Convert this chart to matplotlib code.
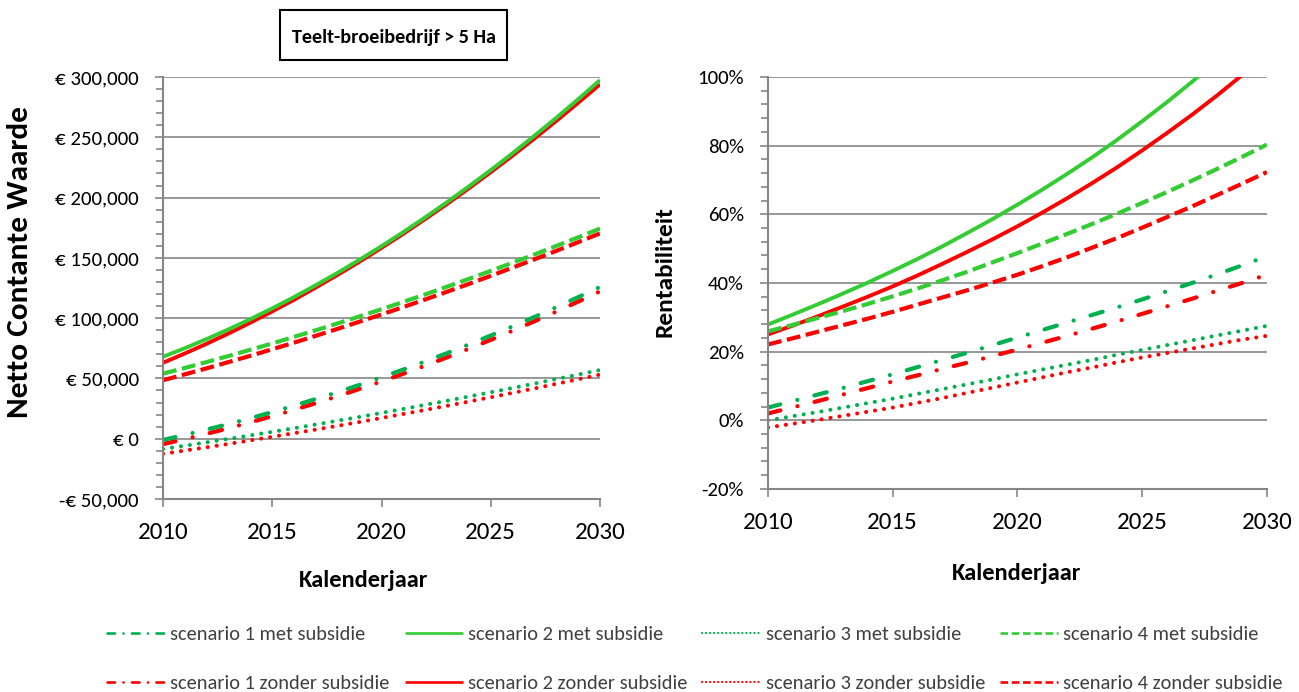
import matplotlib
matplotlib.use("Agg")
import matplotlib.pyplot as plt
from matplotlib.lines import Line2D
from matplotlib.patches import Rectangle
from matplotlib.ticker import FuncFormatter, MultipleLocator

years = list(range(2010, 2031))

# Netto Contante Waarde, in euro x 1000
ncw_s1_met = [-1, 3.2, 7.6, 12.2, 17.0, 22.1, 27.4, 33.0, 38.7, 44.7, 51.0, 57.4, 64.1, 71.0, 78.2, 85.6, 93.2, 101.0, 109.1, 117.4, 125.9]
ncw_s2_met = [68, 75.1, 82.7, 90.7, 99.2, 108.1, 117.5, 127.4, 137.7, 148.5, 159.7, 171.4, 183.6, 196.2, 209.3, 222.8, 236.8, 251.3, 266.2, 281.6, 297.4]
ncw_s3_met = [-8.5, -5.8, -3.0, -0.1, 2.8, 5.7, 8.7, 11.8, 15.0, 18.1, 21.4, 24.7, 28.1, 31.5, 35.0, 38.5, 42.1, 45.7, 49.5, 53.2, 57.0]
ncw_s4_met = [54, 58.7, 63.6, 68.6, 73.8, 79.0, 84.5, 90.0, 95.7, 101.5, 107.4, 113.5, 119.7, 126.1, 132.6, 139.2, 146.0, 152.8, 159.9, 167.0, 174.3]
ncw_s1_zonder = [-4.5, -0.3, 4.1, 8.7, 13.6, 18.7, 24.0, 29.5, 35.3, 41.3, 47.5, 53.9, 60.6, 67.5, 74.6, 82.0, 89.6, 97.4, 105.4, 113.7, 122.2]
ncw_s2_zonder = [63, 70.7, 78.8, 87.3, 96.3, 105.6, 115.3, 125.5, 136.0, 146.9, 158.3, 170.0, 182.2, 194.7, 207.7, 221.1, 234.8, 249.0, 263.6, 278.6, 294.0]
ncw_s3_zonder = [-12.5, -9.8, -7.1, -4.3, -1.4, 1.6, 4.6, 7.6, 10.7, 13.9, 17.2, 20.5, 23.9, 27.3, 30.8, 34.4, 38.0, 41.7, 45.5, 49.3, 53.2]
ncw_s4_zonder = [48.5, 53.4, 58.4, 63.6, 68.8, 74.2, 79.7, 85.4, 91.2, 97.1, 103.1, 109.2, 115.5, 121.9, 128.4, 135.1, 141.9, 148.8, 155.8, 163.0, 170.3]

# Rentabiliteit, in %
rent_s1_met = [3.7, 5.6, 7.5, 9.4, 11.4, 13.4, 15.5, 17.6, 19.7, 21.9, 24.1, 26.3, 28.5, 30.7, 32.9, 35.2, 37.6, 40.0, 42.5, 45.1, 47.8]
rent_s2_met = [27.9, 30.8, 33.8, 36.9, 40.1, 43.5, 47.0, 50.7, 54.6, 58.6, 62.8, 67.2, 71.8, 76.6, 81.7, 87.1, 92.7, 98.6, 104.8, 111.3, 118.1]
rent_s3_met = [0, 1.2, 2.4, 3.7, 5.0, 6.3, 7.7, 9.1, 10.5, 11.9, 13.4, 14.8, 16.2, 17.6, 19.1, 20.5, 21.9, 23.3, 24.7, 26.1, 27.5]
rent_s4_met = [25.9, 27.8, 29.8, 31.8, 33.9, 36.1, 38.4, 40.8, 43.3, 46.0, 48.7, 51.5, 54.3, 57.2, 60.2, 63.3, 66.5, 69.8, 73.2, 76.7, 80.3]
rent_s1_zonder = [2.0, 3.8, 5.6, 7.5, 9.4, 11.3, 13.1, 15.0, 16.8, 18.7, 20.6, 22.6, 24.6, 26.7, 28.8, 31.0, 33.2, 35.4, 37.7, 40.0, 42.4]
rent_s2_zonder = [25.0, 27.6, 30.3, 33.1, 36.0, 39.0, 42.2, 45.6, 49.1, 52.7, 56.5, 60.5, 64.7, 69.1, 73.7, 78.6, 83.7, 89.0, 94.6, 100.5, 106.7]
rent_s3_zonder = [-2.1, -1.0, 0.1, 1.3, 2.5, 3.7, 5.1, 6.5, 8.0, 9.5, 11.0, 12.5, 14.0, 15.4, 16.9, 18.3, 19.6, 20.9, 22.2, 23.5, 24.6]
rent_s4_zonder = [22.1, 23.9, 25.8, 27.7, 29.6, 31.6, 33.7, 35.8, 37.9, 40.1, 42.4, 44.9, 47.5, 50.3, 53.1, 56.1, 59.2, 62.3, 65.6, 68.9, 72.3]

ncw = {(1, "met"): ncw_s1_met, (2, "met"): ncw_s2_met, (3, "met"): ncw_s3_met, (4, "met"): ncw_s4_met,
       (1, "zonder"): ncw_s1_zonder, (2, "zonder"): ncw_s2_zonder, (3, "zonder"): ncw_s3_zonder, (4, "zonder"): ncw_s4_zonder}
rent = {(1, "met"): rent_s1_met, (2, "met"): rent_s2_met, (3, "met"): rent_s3_met, (4, "met"): rent_s4_met,
        (1, "zonder"): rent_s1_zonder, (2, "zonder"): rent_s2_zonder, (3, "zonder"): rent_s3_zonder, (4, "zonder"): rent_s4_zonder}

LIGHT_GREEN = "#33CC33"
DARK_GREEN = "#00B050"
RED = "#FF0000"
GRID = "#868686"
colors = {(1, "met"): DARK_GREEN, (2, "met"): LIGHT_GREEN, (3, "met"): DARK_GREEN, (4, "met"): LIGHT_GREEN,
          (1, "zonder"): RED, (2, "zonder"): RED, (3, "zonder"): RED, (4, "zonder"): RED}

FONT = ["Carlito", "Liberation Sans", "DejaVu Sans"]
plt.rcParams["font.family"] = FONT
plt.rcParams["lines.scale_dashes"] = False

# line style per scenario: (linestyle, linewidth, capstyle)
styles = {
    1: ((0, (9.2, 12.6, 0.1, 12.6)), 3.0, "round"),
    2: ("-", 2.8, "butt"),
    3: ((0, (0.1, 6.4)), 2.9, "round"),
    4: ((0, (10.0, 4.0)), 3.0, "butt"),
}
legend_styles = {
    1: ((0, (5.5, 6.0, 0.1, 6.0)), 1.9, "round"),
    2: ("-", 1.9, "butt"),
    3: ((0, (0.1, 2.8)), 1.6, "round"),
    4: ((0, (5.5, 2.6)), 1.9, "butt"),
}

fig = plt.figure(figsize=(12.99, 6.92), dpi=100)
ax1 = fig.add_axes([0.1255, 0.2789, 0.3364, 0.6098])
ax2 = fig.add_axes([0.5912, 0.2934, 0.3841, 0.5954])

for key in [(s, k) for k in ("zonder", "met") for s in (3, 1, 4, 2)]:
    ls, lw, cap = styles[key[0]]
    c = colors[key]
    ax1.plot(years, [v * 1000 for v in ncw[key]], color=c, ls=ls, lw=lw,
             dash_capstyle=cap, solid_capstyle="butt")
    ax2.plot(years, [v / 100 for v in rent[key]], color=c, ls=ls, lw=lw,
             dash_capstyle=cap, solid_capstyle="butt")

for ax in (ax1, ax2):
    ax.set_xlim(2010, 2030)
    ax.xaxis.set_major_locator(MultipleLocator(5))
    ax.grid(axis="y", color=GRID, lw=1.2)
    ax.set_axisbelow(True)
    for s in ("top", "right"):
        ax.spines[s].set_visible(False)
    for s in ("left", "bottom"):
        ax.spines[s].set_color(GRID)
        ax.spines[s].set_linewidth(1.5)
    ax.tick_params(axis="both", which="both", color=GRID, width=1.2, direction="out")
    ax.tick_params(axis="y", which="major", length=6, labelsize=15, pad=11.5)
    ax.tick_params(axis="y", which="minor", length=5)
    ax.tick_params(axis="x", which="major", length=6, labelsize=18, pad=10.5)

ax1.set_ylim(-50000, 300000)
ax1.yaxis.set_major_locator(MultipleLocator(50000))
ax1.yaxis.set_minor_locator(MultipleLocator(10000))
ax1.yaxis.set_major_formatter(FuncFormatter(
    lambda v, p: ("-€ {:,.0f}".format(-v) if v < 0 else "€ {:,.0f}".format(v))))

ax2.set_ylim(-0.2, 1.0)
ax2.yaxis.set_major_locator(MultipleLocator(0.2))
ax2.yaxis.set_minor_locator(MultipleLocator(0.04))
ax2.yaxis.set_major_formatter(FuncFormatter(lambda v, p: "{:.0f}%".format(v * 100)))

ax1.set_ylabel("Netto Contante Waarde", fontsize=22.5, weight="bold")
ax1.yaxis.set_label_coords(-0.297, 0.5616)
ax1.set_xlabel("Kalenderjaar", fontsize=17.6, weight="bold")
ax1.xaxis.set_label_coords(0.458, -0.168)
ax2.set_ylabel("Rentabiliteit", fontsize=18.3, weight="bold")
ax2.yaxis.set_label_coords(-0.186, 0.527)
ax2.set_xlabel("Kalenderjaar", fontsize=17.6, weight="bold")
ax2.xaxis.set_label_coords(0.499, -0.18)

# title box
fig.patches.append(Rectangle((280 / 1299, 1 - 60 / 692), 227 / 1299, 50 / 692,
                             transform=fig.transFigure, fill=False, ec="black", lw=1.5))
fig.text(393.5 / 1299, 1 - 37 / 692, "Teelt-broeibedrijf > 5 Ha", ha="center", va="center",
         fontsize=14.5, weight="bold")

order = [(1, "met"), (1, "zonder"), (2, "met"), (2, "zonder"),
         (3, "met"), (3, "zonder"), (4, "met"), (4, "zonder")]
leg_handles = []
leg_labels = []
for key in order:
    ls, lw, cap = legend_styles[key[0]]
    leg_handles.append(Line2D([], [], color=colors[key], ls=ls, lw=lw,
                              dash_capstyle=cap, solid_capstyle="butt"))
    leg_labels.append("scenario {} {} subsidie".format(key[0], key[1]))
leg = fig.legend(leg_handles, leg_labels, ncol=4, loc="center",
                 bbox_to_anchor=(695 / 1299, 1 - 659 / 692), frameon=False,
                 prop=dict(family=FONT, size=14.7), labelcolor="#404040",
                 handlelength=2.84, handletextpad=0.25, columnspacing=0.74,
                 labelspacing=1.55, borderpad=0)

fig.savefig("out.png", dpi=100)
